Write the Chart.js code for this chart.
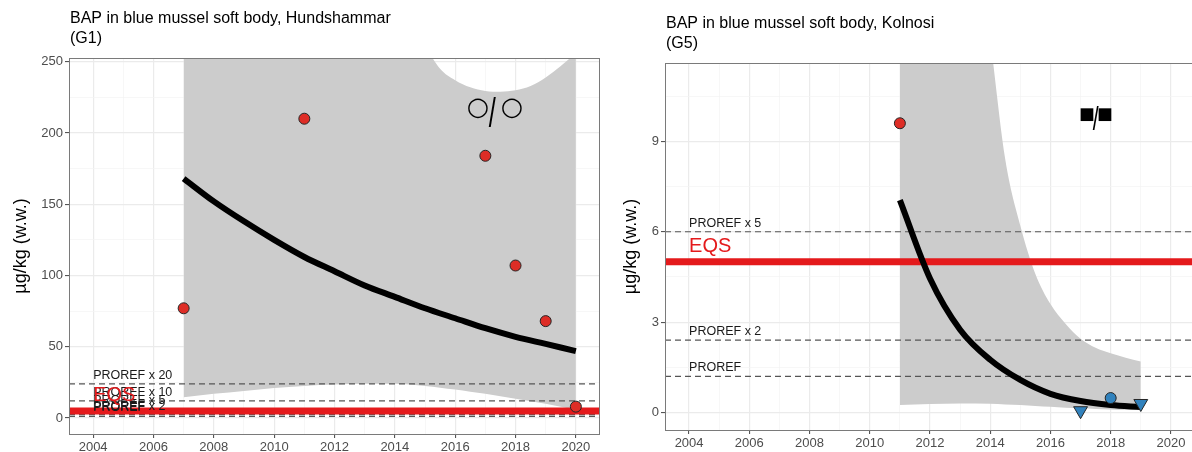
<!DOCTYPE html>
<html><head><meta charset="utf-8">
<script src="https://cdn.jsdelivr.net/npm/chart.js@4.4.1/dist/chart.umd.min.js"></script>
<style>
html,body{margin:0;padding:0;background:#fff;}
#wrap{position:relative;width:1192px;height:452px;overflow:hidden;background:#fff;}
canvas{position:absolute;top:0;}
#c1{left:0;} #c2{left:601px;}
</style></head><body>
<div id="wrap"><canvas id="c1" width="601" height="452"></canvas><canvas id="c2" width="600" height="452"></canvas></div>
<script>
// ---------------- data: panel G1 (Hundshammar) ----------------
const g1Title = ['BAP in blue mussel soft body, Hundshammar', '(G1)'];
const g1PointYears = [2007, 2011, 2017, 2018, 2019, 2020];
const g1PointValues = [77, 210, 184, 107, 68, 8];
const g1PointBelowLOQ = [false, false, false, false, false, false];
const g1TrendYears = [2007, 2008, 2009, 2010, 2011, 2012, 2013, 2014, 2015, 2016, 2017, 2018, 2019, 2020];
const g1TrendValues = [168, 152, 138, 125, 113, 103, 93, 85, 77, 70, 63, 57, 52, 47];
const g1BandYears = [2007, 2008, 2009, 2010, 2011, 2012, 2013, 2014, 2015, 2015.5, 2016, 2016.5, 2017, 2017.5, 2018, 2018.5, 2019, 2019.5, 2020];
const g1BandUpper = [900, 800, 700, 600, 500, 420, 360, 310, 262, 245, 237, 232, 229.5, 229, 230, 233, 239, 247, 256];
const g1BandLower = [14.6, 17, 19, 21, 22.5, 23.5, 24, 24, 22.5, 21.3, 20, 18.5, 17, 15.3, 13.5, 11.8, 10, 8, 6];
const g1ProrefValues = [24, 12, 6, 2.4, 1.2];
const g1ProrefLabels = ['PROREF x 20', 'PROREF x 10', 'PROREF x 5', 'PROREF x 2', 'PROREF'];
const g1EQS = 5;
const g1TrendSymbols = ['\u25CB', '/', '\u25CB'];
const g1SymbolPos = [2017.31, 217.5];
const g1YTicks = [0, 50, 100, 150, 200, 250];
const g1YMinor = [25, 75, 125, 175, 225];

// ---------------- data: panel G5 (Kolnosi) ----------------
const g5Title = ['BAP in blue mussel soft body, Kolnosi', '(G5)'];
const g5PointYears = [2011, 2017, 2018, 2019];
const g5PointValues = [9.6, 0.06, 0.48, 0.3];
const g5PointBelowLOQ = [false, true, false, true];
const g5TrendYears = [2011, 2012, 2013, 2014, 2015, 2016, 2017, 2018, 2019];
const g5TrendValues = [7.05, 4.45, 2.75, 1.75, 1.08, 0.62, 0.38, 0.25, 0.18];
const g5BandYears = [2011, 2012, 2013, 2014, 2014.5, 2015, 2015.5, 2016, 2016.5, 2017, 2017.5, 2018, 2018.5, 2019];
const g5BandUpper = [80, 40, 20, 12.4, 8.4, 6.2, 4.6, 3.6, 2.95, 2.45, 2.15, 1.97, 1.82, 1.69];
const g5BandLower = [0.25, 0.28, 0.3, 0.29, 0.27, 0.25, 0.22, 0.19, 0.16, 0.14, 0.12, 0.1, 0.09, 0.08];
const g5ProrefValues = [6, 2.4, 1.2];
const g5ProrefLabels = ['PROREF x 5', 'PROREF x 2', 'PROREF'];
const g5EQS = 5;
const g5TrendSymbols = ['\u25A0', '/', '\u25A0'];
const g5SymbolPos = [2017.52, 9.89];
const g5YTicks = [0, 3, 6, 9];
const g5YMinor = [1.5, 4.5, 7.5, 10.5];

// ---------------- shared axis data ----------------
const xTickYears = [2004, 2006, 2008, 2010, 2012, 2014, 2016, 2018, 2020];
const xMinorYears = [2005, 2007, 2009, 2011, 2013, 2015, 2017, 2019];
const yAxisTitle = '\u00B5g/kg (w.w.)';
const labelYear = 2004;

// ---------------- styling / rendering ----------------
const FONT = "'Liberation Sans', Arial, Helvetica, sans-serif";
Chart.defaults.font.family = FONT;
const RED_PT = '#de2d26', BLUE_PT = '#3182bd', EQS_RED = '#e41a1c';

// draw a glyph so that its ink box has a given height (optionally stretched vertically) centred on (cx, cy)
function drawGlyph(ctx, text, family, inkH, cx, cy, yScale) {
  const ys = yScale || 1;
  ctx.font = '100px ' + family;
  let m = ctx.measureText(text);
  const size = 100 * (inkH / ys) / (m.actualBoundingBoxAscent + m.actualBoundingBoxDescent);
  ctx.font = size + 'px ' + family;
  m = ctx.measureText(text);
  ctx.save();
  ctx.translate(cx, cy);
  ctx.scale(1, ys);
  const x = -(m.actualBoundingBoxRight - m.actualBoundingBoxLeft) / 2;
  const y = -(m.actualBoundingBoxDescent - m.actualBoundingBoxAscent) / 2;
  ctx.textAlign = 'left'; ctx.textBaseline = 'alphabetic';
  ctx.fillText(text, x, y);
  ctx.restore();
}

function panel(canvasId, P) {
  const isMajorX = v => xTickYears.includes(v);
  const isMajorY = v => P.yTicks.includes(v);
  const xy = (xs, ys) => xs.map((x, i) => ({x, y: ys[i]}));
  const datasets = [];
  datasets.push({
    data: xy(P.pointYears, P.pointValues), showLine: false, order: 0,
    pointStyle: P.below.map(b => b ? 'triangle' : 'circle'),
    rotation: P.below.map(b => b ? 180 : 0),
    pointRadius: P.below.map(b => b ? 8 : 5.5),
    pointBackgroundColor: P.pointValues.map(v => v > P.eqs ? RED_PT : BLUE_PT),
    pointBorderColor: '#262626', pointBorderWidth: 1
  });
  datasets.push({
    data: xy(P.trendYears, P.trendValues), order: 1, borderColor: '#000', borderWidth: 6,
    cubicInterpolationMode: 'monotone', pointRadius: 0, fill: false
  });
  datasets.push({
    data: [{x: P.xMin, y: P.eqs}, {x: P.xMax, y: P.eqs}], order: 2, borderColor: EQS_RED,
    borderWidth: 7, pointRadius: 0, fill: false
  });
  P.proref.forEach(v => datasets.push({
    data: [{x: P.xMin, y: v}, {x: P.xMax, y: v}], order: 3, borderColor: '#555',
    borderWidth: 1.2, borderDash: [6, 4], pointRadius: 0, fill: false
  }));
  const upperIdx = datasets.length;
  datasets.push({
    data: xy(P.bandYears, P.bandUpper), order: 5, borderWidth: 0, borderColor: 'rgba(0,0,0,0)',
    backgroundColor: '#cccccc', pointRadius: 0, cubicInterpolationMode: 'monotone',
    fill: {target: upperIdx + 1}
  });
  datasets.push({
    data: xy(P.bandYears, P.bandLower), order: 5, borderWidth: 0, borderColor: 'rgba(0,0,0,0)',
    pointRadius: 0, cubicInterpolationMode: 'monotone', fill: false
  });

  const textPlugin = {
    id: 'panelText',
    afterDatasetsDraw(chart) {
      const {ctx, scales: {x, y}} = chart;
      ctx.save();
      ctx.textAlign = 'left'; ctx.textBaseline = 'alphabetic';
      ctx.font = '12.5px ' + FONT; ctx.fillStyle = '#1a1a1a';
      P.proref.forEach((v, i) => ctx.fillText(P.prorefLabels[i], x.getPixelForValue(labelYear), y.getPixelForValue(v) - 5));
      ctx.font = '20px ' + FONT; ctx.fillStyle = EQS_RED;
      ctx.fillText('EQS', x.getPixelForValue(labelYear), y.getPixelForValue(P.eqs) - 10);
      ctx.fillStyle = '#000';
      const cx = x.getPixelForValue(P.symbolPos[0]), cy = y.getPixelForValue(P.symbolPos[1]);
      const S = P.sym;
      drawGlyph(ctx, P.symbols[0], '"DejaVu Sans"', S.glyphH, cx - S.gap, cy);
      drawGlyph(ctx, P.symbols[1], FONT, S.slashH, cx + S.slashDx, cy + S.slashDy, S.slashScale);
      drawGlyph(ctx, P.symbols[2], '"DejaVu Sans"', S.glyphH, cx + S.gap, cy);
      ctx.restore();
    },
    afterDraw(chart) {
      const {ctx, chartArea: a} = chart;
      ctx.save();
      ctx.strokeStyle = '#7a7a7a'; ctx.lineWidth = 1;
      ctx.strokeRect(Math.round(a.left) + 0.5, Math.round(a.top) + 0.5, Math.round(a.right - a.left) - 1, Math.round(a.bottom - a.top));
      ctx.font = '16px ' + FONT; ctx.fillStyle = '#000'; ctx.textAlign = 'left'; ctx.textBaseline = 'middle';
      ctx.fillText(P.title[0], a.left + 1, P.titleY[0]);
      ctx.fillText(P.title[1], a.left + 1, P.titleY[1]);
      ctx.restore();
    }
  };

  return new Chart(document.getElementById(canvasId), {
    type: 'line',
    data: {datasets},
    plugins: [textPlugin],
    options: {
      responsive: false, animation: false, devicePixelRatio: 1, events: [],
      layout: {padding: P.padding, autoPadding: false},
      plugins: {legend: {display: false}, tooltip: {enabled: false}, title: {display: false}, filler: {drawTime: 'beforeDatasetsDraw'}},
      scales: {
        x: {
          type: 'linear', min: P.xMin, max: P.xMax,
          afterBuildTicks: s => { s.ticks = xTickYears.concat(xMinorYears).sort((a, b) => a - b).map(v => ({value: v})); },
          afterFit: s => { s.height = P.xAxisH; s.paddingLeft = 0; s.paddingRight = 0; },
          ticks: {autoSkip: false, maxRotation: 0, padding: 2, color: '#4d4d4d', font: {size: 13},
            callback: v => isMajorX(v) ? String(v) : ''},
          grid: {
            color: c => c.tick && isMajorX(c.tick.value) ? '#ebebeb' : '#f3f3f3',
            lineWidth: c => c.tick && isMajorX(c.tick.value) ? 1.2 : 0.7,
            tickColor: c => c.tick && isMajorX(c.tick.value) ? '#444' : 'rgba(0,0,0,0)',
            tickLength: 4, tickWidth: 1
          },
          border: {display: false}
        },
        y: {
          type: 'linear', min: P.yMin, max: P.yMax,
          afterBuildTicks: s => { s.ticks = P.yTicks.concat(P.yMinor).sort((a, b) => a - b).map(v => ({value: v})); },
          afterFit: s => { s.width = P.yAxisW; s.paddingTop = 0; s.paddingBottom = 0; },
          ticks: {autoSkip: false, padding: 2, color: '#4d4d4d', font: {size: 13},
            callback: v => isMajorY(v) ? String(v) : ''},
          grid: {
            color: c => c.tick && isMajorY(c.tick.value) ? '#ebebeb' : '#f3f3f3',
            lineWidth: c => c.tick && isMajorY(c.tick.value) ? 1.2 : 0.7,
            tickColor: c => c.tick && isMajorY(c.tick.value) ? '#444' : 'rgba(0,0,0,0)',
            tickLength: 4, tickWidth: 1
          },
          border: {display: false},
          title: {display: true, text: yAxisTitle, color: '#000', font: {size: 18}, padding: {top: P.yTitlePad, bottom: 0}}
        }
      }
    }
  });
}

panel('c1', {
  title: g1Title, titleY: [19, 39],
  pointYears: g1PointYears, pointValues: g1PointValues, below: g1PointBelowLOQ,
  trendYears: g1TrendYears, trendValues: g1TrendValues,
  bandYears: g1BandYears, bandUpper: g1BandUpper, bandLower: g1BandLower,
  proref: g1ProrefValues, prorefLabels: g1ProrefLabels, eqs: g1EQS,
  symbols: g1TrendSymbols, symbolPos: g1SymbolPos,
  sym: {glyphH: 20, gap: 17, slashH: 30, slashDx: -2, slashDy: 4, slashScale: 1.6},
  yTicks: g1YTicks, yMinor: g1YMinor,
  xMin: 2003.2, xMax: 2020.8, yMin: -11.2, yMax: 252.6,
  padding: {top: 58, left: 0, right: 1, bottom: 0}, xAxisH: 18, yAxisW: 69, yTitlePad: 10
});
panel('c2', {
  title: g5Title, titleY: [24, 44],
  pointYears: g5PointYears, pointValues: g5PointValues, below: g5PointBelowLOQ,
  trendYears: g5TrendYears, trendValues: g5TrendValues,
  bandYears: g5BandYears, bandUpper: g5BandUpper, bandLower: g5BandLower,
  proref: g5ProrefValues, prorefLabels: g5ProrefLabels, eqs: g5EQS,
  symbols: g5TrendSymbols, symbolPos: g5SymbolPos,
  sym: {glyphH: 13, gap: 9, slashH: 25, slashDx: -0.5, slashDy: 3, slashScale: 1.6},
  yTicks: g5YTicks, yMinor: g5YMinor,
  xMin: 2003.2, xMax: 2020.8, yMin: -0.58, yMax: 11.6,
  padding: {top: 63, left: 0, right: 6, bottom: 0}, xAxisH: 22, yAxisW: 64, yTitlePad: 19
});
</script>
</body></html>
